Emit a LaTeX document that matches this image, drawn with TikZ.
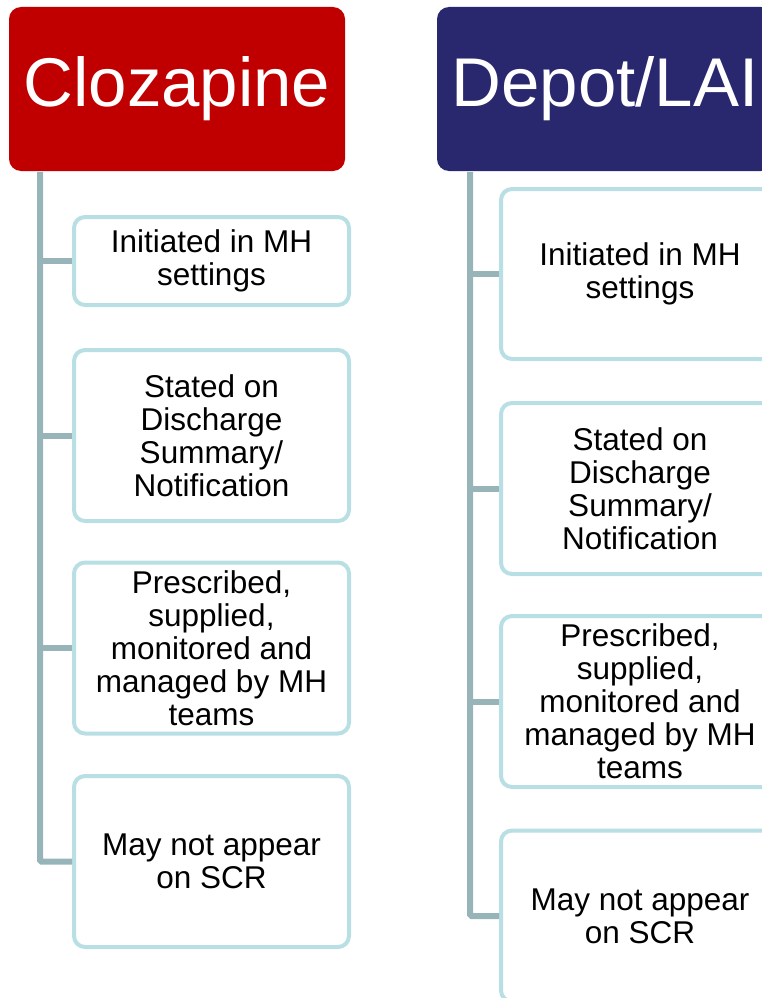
\documentclass[tikz,border=0pt]{standalone}
\usepackage{fontspec}
\setmainfont{Liberation Sans}
\definecolor{clozred}{HTML}{C00000}
\definecolor{depotblue}{HTML}{29286F}
\definecolor{spinegray}{HTML}{97B4B8}
\definecolor{boxblue}{HTML}{B8DFE3}
\tikzset{
  head/.style={rectangle, rounded corners=12pt, text=white, minimum width=336pt,
    minimum height=164pt, inner sep=0pt, font=\fontsize{69}{80}\selectfont},
  item/.style={rectangle, rounded corners=11pt, draw=boxblue, line width=4pt, fill=white,
    align=center, inner sep=0pt, minimum width=275pt, font=\fontsize{31.5}{33}\selectfont},
  spine/.style={draw=spinegray, line width=6pt, rounded corners=1.5pt}
}
\begin{document}
\begin{tikzpicture}[x=1pt,y=-1pt]
  \useasboundingbox (0,0) rectangle (762,998);
  \clip (0,0) rectangle (762,998);

  % Clozapine column
  \node[head, fill=clozred] (lhead) at (177,89) {Clozapine};
  \coordinate (ltop) at (40,172);
  \node[item, minimum height=88pt] (l1) at (211.5,261) {Initiated in MH\\settings};
  \node[item, minimum height=171pt] (l2) at (211.5,435.5) {Stated on\\Discharge\\Summary/\\Notification};
  \node[item, minimum height=171pt] (l3) at (211.5,648) {Prescribed,\\supplied,\\monitored and\\managed by MH\\teams};
  \node[item, minimum height=171pt] (l4) at (211.5,861.5) {May not appear\\on SCR};

  \draw[spine] (ltop) |- (l4.west);
  \foreach \i in {1,2,3}
    \draw[spine] (ltop |- l\i.west) -- (l\i.west);

  % Depot/LAI column
  \node[head, fill=depotblue] (rhead) at (605,89) {Depot/LAI};
  \coordinate (rtop) at (470,172);
  \node[item, minimum width=278pt, minimum height=170pt] (r1) at (640,274) {Initiated in MH\\settings};
  \node[item, minimum width=278pt, minimum height=171pt] (r2) at (640,488.5) {Stated on\\Discharge\\Summary/\\Notification};
  \node[item, minimum width=278pt, minimum height=171pt] (r3) at (640,701.5) {Prescribed,\\supplied,\\monitored and\\managed by MH\\teams};
  \node[item, minimum width=278pt, minimum height=171pt] (r4) at (640,916) {May not appear\\on SCR};

  \draw[spine] (rtop) |- (r4.west);
  \foreach \i in {1,2,3}
    \draw[spine] (rtop |- r\i.west) -- (r\i.west);
\end{tikzpicture}
\end{document}
